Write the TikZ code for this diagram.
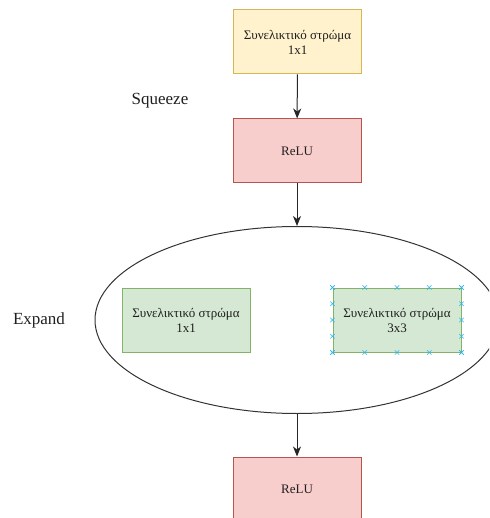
\documentclass[tikz,border=0pt]{standalone}
\usepackage{fontspec}
\setmainfont{Liberation Serif}
\usetikzlibrary{arrows.meta,shapes.geometric,calc}
\definecolor{yfill}{HTML}{FFF2CC}
\definecolor{yline}{HTML}{D6B656}
\definecolor{rfill}{HTML}{F8CECC}
\definecolor{rline}{HTML}{B85450}
\definecolor{gfill}{HTML}{D5E8D4}
\definecolor{gline}{HTML}{82B366}
\definecolor{mark}{HTML}{29B6F2}
\tikzset{
  layer/.style={draw, line width=1pt, minimum width=128pt, minimum height=64pt,
    inner sep=0pt, align=center, font=\fontsize{13}{15}\selectfont, text=black!88},
  conv/.style={layer, fill=yfill, draw=yline},
  act/.style={layer, fill=rfill, draw=rline},
  branch/.style={layer, fill=gfill, draw=gline},
  flow/.style={draw=black!85, line width=1pt, -{Stealth[length=10pt,width=8pt,inset=3pt]}},
  tag/.style={font=\fontsize{17}{20}\selectfont, text=black!88, inner sep=0pt},
  xmark/.style={draw=mark, line width=0.6pt}
}
\newcommand{\xpt}[1]{\draw[xmark] ($(#1)+(-2.2pt,-2.2pt)$) -- ($(#1)+(2.2pt,2.2pt)$) ($(#1)+(-2.2pt,2.2pt)$) -- ($(#1)+(2.2pt,-2.2pt)$);}
\begin{document}
\begin{tikzpicture}[x=1pt,y=-1pt]
  \useasboundingbox (0,0) rectangle (489,518);
  \clip (0,0) rectangle (489,518);

  % squeeze stage
  \node[conv] (sq) at (297.5,42) {Συνελικτικό στρώμα\\1x1};
  \node[act] (relu1) at (297,151) {ReLU};
  \node[tag] (sqlabel) at (160,101) {Squeeze};

  % expand stage: both convolutions grouped in one ellipse
  \node[ellipse, draw=black!80, line width=1pt, minimum width=404pt,
        minimum height=187pt, inner sep=0pt] (grp) at (297,320) {};
  \node[branch] (e1) at (186,320) {Συνελικτικό στρώμα\\1x1};
  \node[branch] (e3) at (397,320) {Συνελικτικό στρώμα\\3x3};
  \node[tag] (exlabel) at (39,320) {Expand};

  % connection points on the 3x3 block
  \foreach \t in {0,0.25,0.5,0.75,1} {
    \xpt{$(e3.north west)!\t!(e3.north east)$}
    \xpt{$(e3.south west)!\t!(e3.south east)$}
    \xpt{$(e3.north west)!\t!(e3.south west)$}
    \xpt{$(e3.north east)!\t!(e3.south east)$}
  }

  \node[act] (relu2) at (297,489) {ReLU};

  \draw[flow] (sq) -- (relu1);
  \draw[flow] (relu1) -- (grp.north);
  \draw[flow] (grp.south) -- (relu2);
\end{tikzpicture}
\end{document}
